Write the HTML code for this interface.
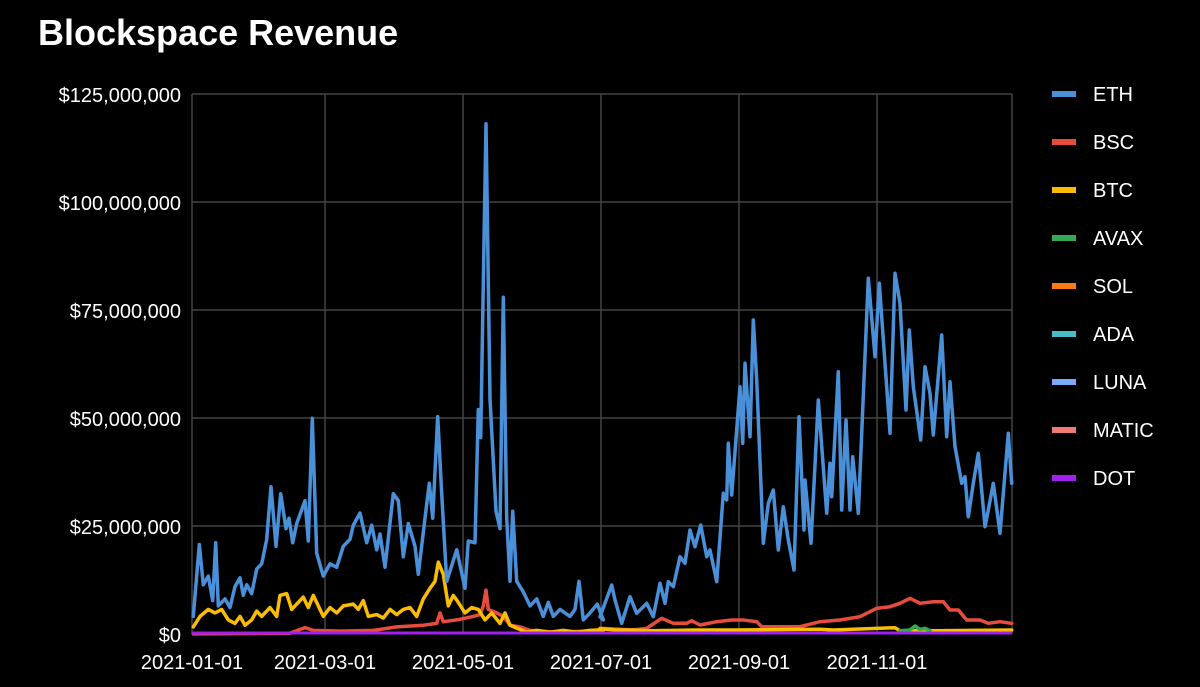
<!DOCTYPE html>
<html><head><meta charset="utf-8"><style>
html,body{margin:0;padding:0;background:#000;}
body{width:1200px;height:682px;overflow:hidden;font-family:"Liberation Sans",sans-serif;color:#fff;}
</style></head><body>
<svg id="s" width="1200" height="682" xmlns="http://www.w3.org/2000/svg">
<rect width="1200" height="682" fill="#000"/>
<text x="38" y="45" font-size="36" font-weight="bold" fill="#fff" font-family="Liberation Sans, sans-serif">Blockspace Revenue</text>
<g stroke="#444" stroke-width="1.5">
<line x1="192" y1="94" x2="1012" y2="94"/><line x1="192" y1="202" x2="1012" y2="202"/>
<line x1="192" y1="310" x2="1012" y2="310"/><line x1="192" y1="418" x2="1012" y2="418"/>
<line x1="192" y1="526" x2="1012" y2="526"/>
<line x1="192" y1="94" x2="192" y2="634"/><line x1="325" y1="94" x2="325" y2="634"/>
<line x1="463" y1="94" x2="463" y2="634"/><line x1="601" y1="94" x2="601" y2="634"/>
<line x1="739" y1="94" x2="739" y2="634"/><line x1="877" y1="94" x2="877" y2="634"/>
<line x1="1012" y1="94" x2="1012" y2="634"/>
</g>
<g font-size="20" fill="#fff" text-anchor="end" font-family="Liberation Sans, sans-serif">
<text x="181" y="102">$125,000,000</text><text x="181" y="210">$100,000,000</text>
<text x="181" y="318">$75,000,000</text><text x="181" y="426">$50,000,000</text>
<text x="181" y="534">$25,000,000</text><text x="181" y="642">$0</text>
</g>
<g font-size="20" fill="#fff" text-anchor="middle" font-family="Liberation Sans, sans-serif">
<text x="192" y="669">2021-01-01</text><text x="325" y="669">2021-03-01</text>
<text x="463" y="669">2021-05-01</text><text x="601" y="669">2021-07-01</text>
<text x="739" y="669">2021-09-01</text><text x="877" y="669">2021-11-01</text>
</g>
<g id="series" fill="none" stroke-width="3.5" stroke-linejoin="round" stroke-linecap="round"></g>
<line x1="192" y1="633" x2="1012" y2="633" stroke="#a020f0" stroke-width="3"/>
<g font-size="20" fill="#fff" font-family="Liberation Sans, sans-serif">
<rect x="1052" y="91" width="24" height="6" fill="#4a90d9"/><text x="1093" y="101">ETH</text>
<rect x="1052" y="139" width="24" height="6" fill="#e84c3d"/><text x="1093" y="149">BSC</text>
<rect x="1052" y="187" width="24" height="6" fill="#fbbc04"/><text x="1093" y="197">BTC</text>
<rect x="1052" y="235" width="24" height="6" fill="#34a853"/><text x="1093" y="245">AVAX</text>
<rect x="1052" y="283" width="24" height="6" fill="#fa7b17"/><text x="1093" y="293">SOL</text>
<rect x="1052" y="331" width="24" height="6" fill="#46bdc6"/><text x="1093" y="341">ADA</text>
<rect x="1052" y="379" width="24" height="6" fill="#7baaf7"/><text x="1093" y="389">LUNA</text>
<rect x="1052" y="427" width="24" height="6" fill="#f07b72"/><text x="1093" y="437">MATIC</text>
<rect x="1052" y="475" width="24" height="6" fill="#a020f0"/><text x="1093" y="485">DOT</text>
</g>
</svg>
<script>
function z1(p){return [190+p[0]/3, 94+(p[1]-10)*0.3506];}
function z2(p){return [600+p[0]/3, 250+p[1]/3];}
function pts(a,f){return a.map(function(p){var q=f(p);return q[0].toFixed(1)+","+q[1].toFixed(1);});}
var ethA=[[10,1500],[28,1295],[40,1410],[55,1385],[68,1455],[77,1290],[85,1470],[105,1450],[120,1475],[135,1415],[150,1390],[160,1440],[170,1410],[185,1435],[200,1365],[215,1350],[230,1280],[243,1130],[258,1300],[272,1150],[288,1250],[297,1220],[308,1290],[320,1235],[345,1170],[355,1285],[367,935],[380,1320],[400,1385],[420,1350],[440,1360],[460,1300],[480,1280],[490,1240],[510,1205],[530,1290],[545,1240],[560,1310],[570,1265],[585,1360],[610,1150],[625,1170],[640,1330],[655,1235],[675,1300],[685,1380],[705,1220],[718,1120],[728,1220],[743,930],[755,1150],[770,1400],[800,1310],[825,1420],[835,1285],[855,1290],[865,910],[872,990],[888,95],[900,880],[918,1200],[930,1250],[940,590],[950,1220],[960,1400],[968,1200],[980,1400],[1000,1430],[1020,1470],[1040,1450],[1060,1500],[1075,1460],[1090,1500],[1110,1480],[1140,1500],[1155,1480],[1167,1400],[1180,1510],[1200,1490],[1222,1465],[1240,1510]];
var ethB=[[0,1100],[35,1005],[45,1050],[65,1120],[90,1040],[110,1090],[140,1060],[160,1100],[180,1000],[195,1060],[205,995],[220,1010],[240,920],[255,940],[270,840],[285,890],[302,825],[320,920],[330,900],[350,995],[370,730],[380,750],[385,580],[395,735],[420,410],[428,580],[435,340],[450,560],[460,210],[470,390],[490,880],[505,760],[520,720],[535,900],[550,770],[565,870],[582,960],[597,500],[612,840],[615,690],[633,880],[655,450],[680,790],[690,640],[695,740],[715,365],[725,780],[738,510],[750,780],[758,620],[775,790],[805,85],[825,320],[838,100],[870,550],[885,70],[900,160],[918,480],[928,240],[940,410],[962,570],[975,350],[990,430],[1000,555],[1025,255],[1040,560],[1050,395],[1065,590],[1085,700],[1095,680],[1105,800],[1120,700],[1135,610],[1155,830],[1165,780],[1180,700],[1200,850],[1225,550],[1235,700]];
var btcA=[[10,1530],[30,1500],[55,1480],[75,1490],[95,1480],[115,1510],[135,1520],[150,1500],[165,1525],[185,1510],[200,1485],[215,1500],[240,1475],[260,1500],[270,1440],[290,1435],[305,1480],[320,1465],[340,1445],[355,1475],[370,1440],[385,1470],[400,1500],[420,1475],[440,1490],[460,1470],[490,1465],[505,1480],[520,1455],[535,1500],[560,1495],[580,1505],[600,1480],[620,1495],[640,1480],[660,1475],[680,1500],[700,1450],[720,1420],[735,1400],[745,1345],[760,1380],[775,1470],[790,1440],[805,1460],[825,1490],[845,1475],[865,1480],[885,1510],[905,1490],[930,1520],[945,1490],[960,1525],[985,1535],[1010,1545],[1040,1540],[1080,1545],[1120,1540],[1160,1545],[1200,1540],[1240,1538]];
var btcB=[[0,1136],[50,1140],[100,1140],[150,1142],[290,1140],[400,1140],[660,1138],[700,1140],[885,1133],[900,1142],[1000,1142],[1235,1140]];
var bscA=[[10,1550],[300,1548],[345,1532],[370,1540],[450,1542],[550,1540],[620,1530],[700,1525],[740,1520],[750,1490],[760,1515],[800,1510],[850,1500],[870,1495],[880,1470],[888,1425],[895,1480],[920,1490],[940,1500],[960,1525],[990,1530],[1020,1540],[1100,1545],[1240,1540]];
var bscB=[[0,1135],[100,1140],[140,1135],[185,1105],[220,1120],[260,1120],[275,1112],[300,1125],[350,1115],[395,1110],[430,1110],[470,1115],[485,1130],[560,1130],[600,1130],[660,1115],[720,1110],[780,1100],[830,1075],[870,1070],[900,1060],[930,1045],[960,1060],[1000,1055],[1030,1055],[1050,1080],[1075,1080],[1100,1110],[1140,1110],[1165,1120],[1200,1115],[1235,1120]];
var avax=[[900,1142],[930,1140],[945,1128],[960,1138],[975,1135],[990,1142]];
function add(a,b,color){
 var g=document.getElementById("series");
 var pl=document.createElementNS("http://www.w3.org/2000/svg","polyline");
 pl.setAttribute("points",pts(a,z1).concat(b?pts(b,z2):[]).join(" "));
 pl.setAttribute("stroke",color);g.appendChild(pl);
}
add(bscA,bscB,"#e84c3d");
add(btcA,btcB,"#fbbc04");
add([],avax,"#34a853");
add(ethA,ethB,"#4a90d9");
</script>
</body></html>
